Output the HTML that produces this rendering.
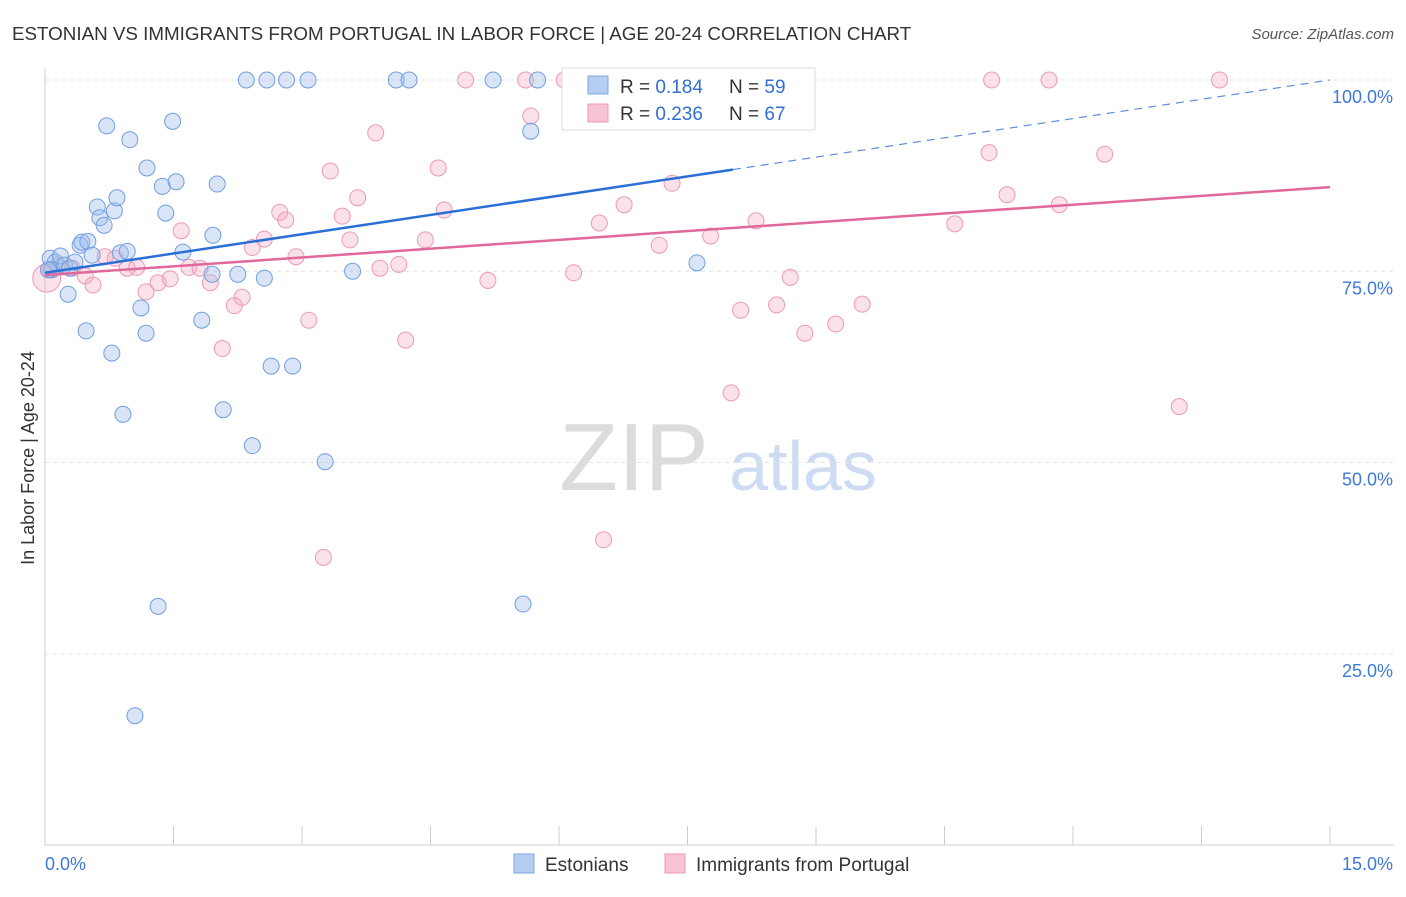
<!DOCTYPE html>
<html><head><meta charset="utf-8"><style>
body{margin:0;background:#fff;font-family:"Liberation Sans",sans-serif;}
svg text{font-family:"Liberation Sans",sans-serif;}
</style></head><body>
<svg id="c" width="1406" height="892" xmlns="http://www.w3.org/2000/svg">
<text x="12" y="40" font-size="18.8" fill="#333">ESTONIAN VS IMMIGRANTS FROM PORTUGAL IN LABOR FORCE | AGE 20-24 CORRELATION CHART</text>
<text x="1394" y="39" font-size="15" fill="#555" font-style="italic" text-anchor="end">Source: ZipAtlas.com</text>
<text x="34" y="458" font-size="18" fill="#333" text-anchor="middle" transform="rotate(-90 34 458)">In Labor Force | Age 20-24</text>
<g><text x="634" y="490" font-size="96" fill="#dcdcdc" font-family="Liberation Serif" text-anchor="middle">ZIP</text><text x="803" y="490" font-size="70" fill="#cddcf2" text-anchor="middle">atlas</text></g>
<g id="grid"></g><g id="axes"></g><g id="pts"></g><g id="lines"></g>
<g>
<rect x="562" y="68" width="253" height="62" fill="#fff" stroke="#ddd"/>
<rect x="588" y="76" width="20" height="18" fill="#b4cdf0" stroke="#7fa6e0"/>
<text x="620" y="93" font-size="19" fill="#333">R = <tspan fill="#2f6fd6">0.184</tspan></text>
<text x="729" y="93" font-size="19" fill="#333">N = <tspan fill="#2f6fd6">59</tspan></text>
<rect x="588" y="104" width="20" height="18" fill="#f8c3d3" stroke="#ec9ab4"/>
<text x="620" y="120" font-size="19" fill="#333">R = <tspan fill="#2f6fd6">0.236</tspan></text>
<text x="729" y="120" font-size="19" fill="#333">N = <tspan fill="#2f6fd6">67</tspan></text>
</g>
<g>
<rect x="514" y="854" width="20" height="19" fill="#b4cdf0" stroke="#7fa6e0"/>
<text x="545" y="871" font-size="19" fill="#333">Estonians</text>
<rect x="665" y="854" width="20" height="19" fill="#f8c3d3" stroke="#ec9ab4"/>
<text x="696" y="871" font-size="19" fill="#333">Immigrants from Portugal</text>
</g>
</svg>
<script>
const yTicks=[100,75,50,25];
const xTickLabels=["0.0%","15.0%"];
const blueX=[0.06,0.12,0.18,0.08,0.23,0.29,0.27,0.35,0.41,0.43,0.5,0.55,0.48,0.61,0.64,0.69,0.72,0.78,0.81,0.84,0.88,0.91,0.96,0.99,1.05,1.12,1.18,1.19,1.32,1.37,1.41,1.49,1.53,1.61,1.83,1.95,1.96,2.01,2.08,2.25,2.35,2.42,2.56,2.59,2.64,2.82,2.89,3.07,3.27,3.59,4.1,4.25,5.23,5.58,5.67,5.75,7.61,7.84,0.04];
const blueY=[76.7,76.2,77.0,75.2,75.8,75.4,72.0,76.2,78.4,78.8,78.9,77.1,67.2,83.4,82.0,81.0,94.0,64.3,82.9,84.6,77.4,56.3,77.6,92.2,16.9,70.2,66.9,88.5,31.2,86.1,82.6,94.6,86.7,77.5,68.6,74.6,79.7,86.4,56.9,74.6,100,52.2,74.1,100,62.6,100,62.6,100,50.1,75.0,100,100,100,31.5,93.3,100,76.1,100,75.2];
const pinkX=[0.02,0.06,0.15,0.32,0.47,0.56,0.7,0.82,0.96,1.07,1.18,1.32,1.46,1.59,1.68,1.81,1.93,2.07,2.21,2.3,2.42,2.56,2.74,2.81,2.93,3.08,3.25,3.33,3.47,3.56,3.65,3.86,3.91,4.13,4.21,4.44,4.59,4.66,4.91,5.17,5.61,5.67,6.06,6.17,6.47,6.52,6.76,6.98,7.17,7.32,7.77,8.01,8.12,8.3,8.54,8.7,8.87,9.23,9.54,10.62,11.02,11.05,11.23,11.72,11.84,12.37,13.24,13.71];
const pinkY=[74.1,75.2,75.8,75.4,74.4,73.2,76.9,76.7,75.4,75.5,72.3,73.5,74.0,80.3,75.5,75.4,73.5,64.9,70.5,71.6,78.1,79.2,82.7,81.7,76.9,68.6,37.6,88.1,82.2,79.1,84.6,93.1,75.4,75.9,66.0,79.1,88.5,83.0,100,73.8,100,95.3,100,74.8,81.3,39.9,83.7,100,78.4,86.5,79.6,59.1,69.9,81.6,70.6,74.2,66.9,68.1,70.7,81.2,90.5,100,85.0,100,83.7,90.3,57.3,100];
const trendX=[0,15];
const blueTrend=[74.8,100];
const pinkTrend=[74.5,86.0];
const blueSolidEnd=8.03;
const X=v=>45+v/15*1285, Y=v=>845-v*7.65;
const NS="http://www.w3.org/2000/svg";
function mk(t,a,p){const e=document.createElementNS(NS,t);for(const k in a)e.setAttribute(k,a[k]);document.getElementById(p).appendChild(e);return e;}
yTicks.forEach(t=>{const l=mk('line',{x1:45,x2:1394,y1:Y(t),y2:Y(t),stroke:'#e3e3e3','stroke-dasharray':'4,4'},'grid');


const tx=mk('text',{x:1393,y:Y(t)+23,'font-size':18,fill:'#3d79d8','text-anchor':'end'},'axes');tx.textContent=t.toFixed(1)+'%';

});
let a=mk('line',{x1:45,x2:45,y1:68,y2:845,stroke:'#ccc'},'axes');


a=mk('line',{x1:45,x2:1394,y1:845,y2:845,stroke:'#ccc'},'axes');


for(let i=0;i<=10;i++){const t=mk('line',{x1:X(i*1.5),x2:X(i*1.5),y1:826,y2:845,stroke:'#ccc'},'axes');

}
let t0=mk('text',{x:45,y:870,'font-size':18,fill:'#3d79d8'},'axes');t0.textContent=xTickLabels[0];


t0=mk('text',{x:1393,y:870,'font-size':18,fill:'#3d79d8','text-anchor':'end'},'axes');t0.textContent=xTickLabels[1];


pinkX.forEach((v,i)=>{const c=mk('circle',{cx:X(v),cy:Y(pinkY[i]),r:i==0?14:8,fill:'rgba(244,170,195,0.35)',stroke:'#ec9ab4','stroke-width':1},'pts');

});
blueX.forEach((v,i)=>{const c=mk('circle',{cx:X(v),cy:Y(blueY[i]),r:8,fill:'rgba(160,190,236,0.4)',stroke:'#6f9ee0','stroke-width':1},'pts');

});
const by=x=>blueTrend[0]+(blueTrend[1]-blueTrend[0])*(x-trendX[0])/(trendX[1]-trendX[0]);
let l=mk('line',{x1:X(trendX[0]),y1:Y(blueTrend[0]),x2:X(blueSolidEnd),y2:Y(by(blueSolidEnd)),stroke:'#2a6fd6','stroke-width':2.5},'lines');


l=mk('line',{x1:X(blueSolidEnd),y1:Y(by(blueSolidEnd)),x2:X(trendX[1]),y2:Y(blueTrend[1]),stroke:'#5b8fe0','stroke-width':1.2,'stroke-dasharray':'8,6'},'lines');


l=mk('line',{x1:X(trendX[0]),y1:Y(pinkTrend[0]),x2:X(trendX[1]),y2:Y(pinkTrend[1]),stroke:'#e0689a','stroke-width':2.5},'lines');


</script>
</body></html>
